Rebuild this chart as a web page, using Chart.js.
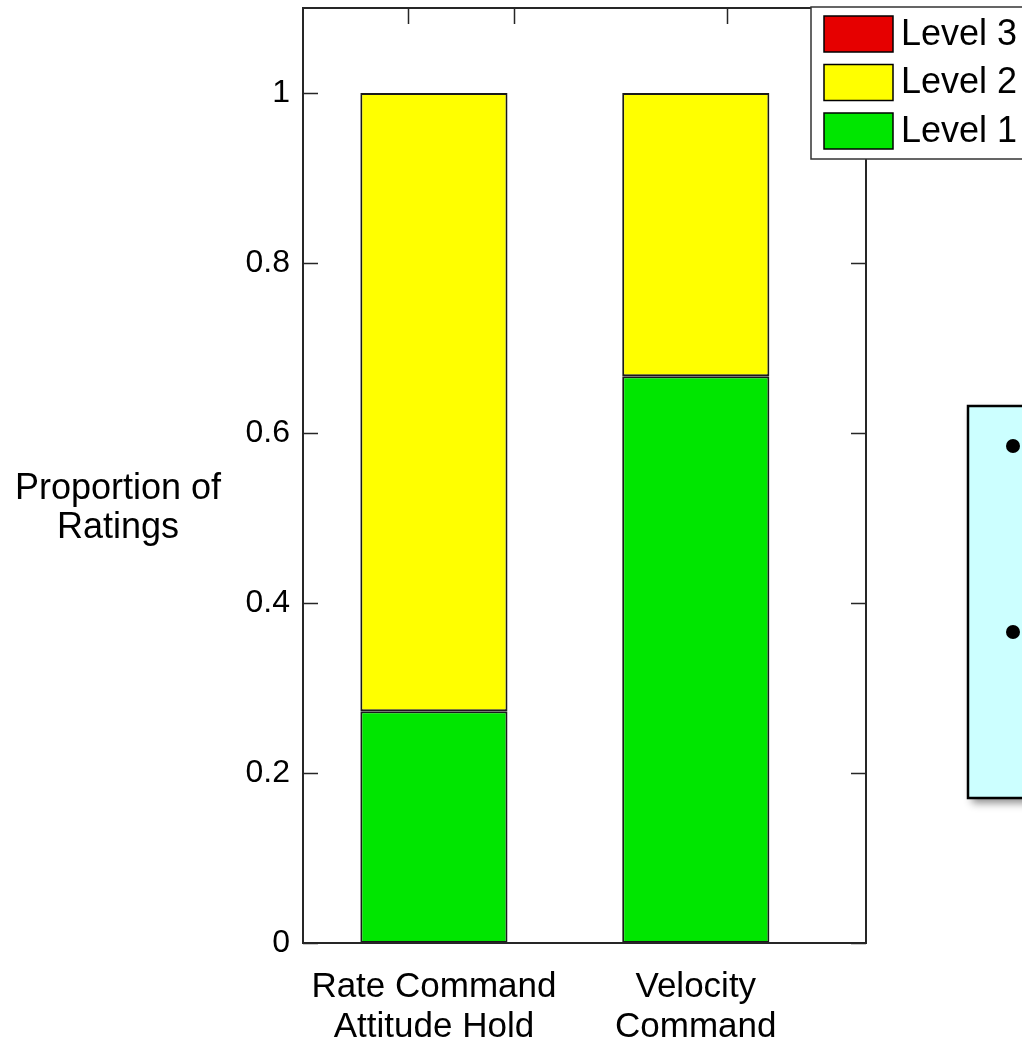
<!DOCTYPE html>
<html>
<head>
<meta charset="utf-8">
<title>Proportion of Ratings</title>
<script src="https://cdn.jsdelivr.net/npm/chart.js@4/dist/chart.umd.min.js"></script>
<style>
  html, body { margin: 0; padding: 0; background: #ffffff; }
  #chart-container { position: relative; width: 1022px; height: 1037px; }
</style>
</head>
<body>
<div id="chart-container"><canvas id="chart"></canvas></div>
<script>
// category positions on the x axis and their two-line labels
const categoryPositions = [1, 2];
const categoryLabels = [["Rate Command", "Attitude Hold"], ["Velocity", "Command"]];

// proportion of ratings per handling quality level
const level1 = [0.2727, 0.6667];
const level2 = [0.7273, 0.3333];
const level3 = [0, 0];

const yTickValues = [0, 0.2, 0.4, 0.6, 0.8, 1];
const yTickLabels = ["0", "0.2", "0.4", "0.6", "0.8", "1"];
const topTickValues = [0.9, 1.307, 2.118];

const FONT = "'Liberation Sans', Arial, sans-serif";
const AXIS_COLOR = "#262626";

function toPoints(values) {
    return values.map((v, i) => ({ x: categoryPositions[i], y: v }));
}

// box, inward tick marks, y title, legend and the side note box
const decorations = {
    id: "decorations",
    afterDatasetsDraw(chart) {
        const ctx = chart.ctx;
        const area = chart.chartArea;
        const xs = chart.scales.x;
        const ys = chart.scales.y;
        const tickLen = 15;

        ctx.save();
        ctx.strokeStyle = AXIS_COLOR;
        ctx.lineWidth = 2;
        ctx.strokeRect(area.left, area.top, area.right - area.left, area.bottom - area.top);

        ctx.beginPath();
        yTickValues.forEach(v => {
            const py = Math.round(ys.getPixelForValue(v)) + 0.5;
            ctx.moveTo(area.left, py);
            ctx.lineTo(area.left + tickLen, py);
            ctx.moveTo(area.right, py);
            ctx.lineTo(area.right - tickLen, py);
        });
        topTickValues.forEach(v => {
            const px = Math.round(xs.getPixelForValue(v)) + 0.5;
            ctx.moveTo(px, area.top);
            ctx.lineTo(px, area.top + tickLen + 1);
        });
        ctx.lineWidth = 1.5;
        ctx.stroke();

        // horizontal y axis title
        ctx.fillStyle = "#000000";
        ctx.font = "36px " + FONT;
        ctx.textAlign = "center";
        ctx.textBaseline = "middle";
        ctx.fillText("Proportion of", 118, 489);
        ctx.fillText("Ratings", 118, 528);

        // legend, listed top level first
        ctx.fillStyle = "#ffffff";
        ctx.fillRect(811, 7, 230, 152);
        ctx.strokeStyle = "#333333";
        ctx.lineWidth = 1.5;
        ctx.strokeRect(811, 7, 230, 152);
        const items = chart.data.datasets.slice().reverse();
        ctx.font = "36px " + FONT;
        ctx.textAlign = "left";
        items.forEach((ds, i) => {
            const top = 16 + i * 48.5;
            ctx.fillStyle = ds.backgroundColor;
            ctx.fillRect(824, top, 69, 36);
            ctx.strokeStyle = "#000000";
            ctx.lineWidth = 1.5;
            ctx.strokeRect(824, top, 69, 36);
            ctx.fillStyle = "#000000";
            ctx.fillText(ds.label, 901, top + 19);
        });

        // note box at the right edge
        ctx.save();
        ctx.shadowColor = "rgba(0, 0, 0, 0.45)";
        ctx.shadowBlur = 8;
        ctx.shadowOffsetX = 4;
        ctx.shadowOffsetY = 5;
        ctx.fillStyle = "#ccffff";
        ctx.fillRect(968, 406, 80, 392);
        ctx.restore();
        ctx.strokeStyle = "#000000";
        ctx.lineWidth = 2.5;
        ctx.strokeRect(968, 406, 80, 392);
        ctx.fillStyle = "#000000";
        [446, 632].forEach(by => {
            ctx.beginPath();
            ctx.arc(1013, by, 7, 0, Math.PI * 2);
            ctx.fill();
        });
        ctx.restore();
    }
};

const ctx = document.getElementById("chart").getContext("2d");

new Chart(ctx, {
    type: "bar",
    data: {
        datasets: [
            { label: "Level 1", data: toPoints(level1), backgroundColor: "#00e600" },
            { label: "Level 2", data: toPoints(level2), backgroundColor: "#ffff00" },
            { label: "Level 3", data: toPoints(level3), backgroundColor: "#e60000" }
        ]
    },
    options: {
        responsive: true,
        maintainAspectRatio: false,
        animation: false,
        layout: { padding: { top: 8, right: 156, left: 0, bottom: 0 } },
        datasets: {
            bar: {
                borderColor: "#1a1a1a",
                borderWidth: 2,
                borderSkipped: false,
                categoryPercentage: 1,
                barPercentage: 0.562
            }
        },
        plugins: {
            legend: { display: false },
            tooltip: { enabled: false }
        },
        scales: {
            x: {
                type: "linear",
                stacked: true,
                offset: false,
                bounds: "data",
                min: 0.5,
                max: 2.65,
                grid: { display: false, offset: false },
                border: { display: false },
                afterBuildTicks(scale) {
                    scale.ticks = categoryPositions.map(v => ({ value: v }));
                },
                afterFit(scale) {
                    scale.height = 94;
                    scale.paddingLeft = 0;
                    scale.paddingRight = 0;
                },
                ticks: {
                    color: "#000000",
                    font: { family: FONT, size: 35, lineHeight: 1.15 },
                    padding: 16,
                    maxRotation: 0,
                    autoSkip: false,
                    callback: (value, index) => categoryLabels[index]
                }
            },
            y: {
                stacked: true,
                min: 0,
                max: 1.1,
                grid: { display: false, drawTicks: false },
                border: { display: false },
                afterBuildTicks(scale) {
                    scale.ticks = yTickValues.map(v => ({ value: v }));
                },
                afterFit(scale) {
                    scale.width = 303;
                    scale.paddingTop = 0;
                    scale.paddingBottom = 0;
                },
                ticks: {
                    color: "#000000",
                    font: { family: FONT, size: 32 },
                    padding: 13,
                    callback: (value, index) => yTickLabels[index]
                }
            }
        }
    },
    plugins: [decorations]
});
</script>
</body>
</html>
